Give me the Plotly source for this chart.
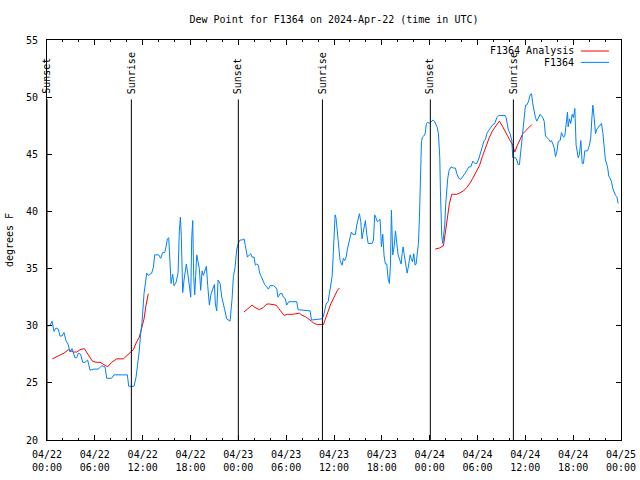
import pandas as pd
import plotly.graph_objects as go

START = pd.Timestamp("2024-04-22 00:00")

# F1364 observations: hours since 2024-04-22 00:00 UTC, dew point (F)
obs_hours = [
    0.00, 0.38, 0.63, 0.88, 1.13, 1.42, 1.63, 1.88, 2.13, 2.38, 2.63, 2.89, 3.14, 3.51, 3.72, 3.93,
    4.22, 4.48, 4.77, 5.10, 5.40, 5.81, 6.44, 6.86, 7.28, 7.49, 8.11, 8.41, 9.16, 9.79, 10.08, 10.25,
    10.92, 11.17, 11.33, 11.54, 11.75, 11.92, 12.17, 12.38, 12.51, 12.71, 13.13, 13.34, 13.51, 14.01,
    14.26, 14.51, 14.76, 14.93, 15.10, 15.27, 15.43, 15.56, 15.77, 15.93, 16.19, 16.44, 16.60, 16.73,
    16.85, 17.02, 17.19, 17.36, 17.48, 17.69, 17.86, 18.03, 18.15, 18.28, 18.40, 18.53, 18.65, 18.78,
    18.95, 19.11, 19.28, 19.45, 19.62, 19.78, 19.99, 20.16, 20.37, 20.58, 20.83, 21.00, 21.12, 21.29,
    21.46, 21.71, 21.92, 22.08, 22.29, 22.54, 22.96, 23.21, 23.38, 23.59, 23.80, 24.05,
    24.22, 24.47, 24.72, 24.88, 25.14, 25.39, 25.55, 25.72, 25.97, 26.14, 26.31, 26.52, 26.64, 26.81,
    27.06, 27.31, 27.56, 27.77, 27.98, 28.40, 28.65, 28.82, 28.98, 29.23, 29.49, 29.65, 29.86, 30.07,
    30.32, 31.33, 31.49, 33.00, 33.17, 34.46, 34.67, 34.84, 35.01, 35.26, 35.42, 35.59, 35.76, 35.84,
    36.01, 36.14, 36.26, 36.43, 36.60, 36.76, 37.01, 37.18, 37.35, 37.52, 37.68, 37.93, 38.18, 38.35,
    38.69, 38.85, 39.02, 39.19, 39.36, 39.52, 39.61, 39.77, 39.94, 40.11, 40.28, 40.78, 40.95, 41.11,
    41.28, 41.45, 41.61, 41.78, 41.95, 42.12, 42.28, 42.45, 42.62, 42.79, 42.95, 43.08, 43.20, 43.37,
    43.54, 43.71,
    44.04, 44.29, 44.42, 44.54, 44.67, 44.79, 44.92, 45.04, 45.17, 45.29, 45.42, 45.55, 45.67, 45.84,
    46.01, 46.17, 46.30, 46.42, 46.59, 46.72, 46.84, 46.97, 47.09, 47.26, 47.43, 47.59, 47.76, 47.93,
    48.10, 48.26, 48.43, 48.60, 48.77, 48.93, 49.10, 49.27, 49.35, 49.44, 49.52, 49.65, 49.77, 49.90,
    50.02, 50.15, 50.27, 50.44, 50.69, 50.94,
    51.23, 51.40, 51.65, 51.90, 52.15, 52.41, 52.66, 52.91, 53.16, 53.41, 53.66, 53.91, 54.16, 54.41,
    54.66, 54.83, 55.00, 55.17, 55.42, 55.67, 55.92, 56.17, 56.42, 56.67, 57.47, 57.59, 57.76, 57.88,
    58.09, 58.30, 58.43, 58.76, 58.93, 59.10, 59.26, 59.35, 59.52, 59.68, 59.85, 60.02, 60.18, 60.39,
    60.60, 60.77, 60.94, 61.10, 61.27, 61.44, 61.69, 61.86, 62.19, 62.36, 62.53, 62.69, 62.94, 63.11,
    63.28, 63.45, 63.61, 63.78, 63.95, 64.12, 64.37, 64.53, 64.78, 64.95, 65.12, 65.29, 65.37, 65.54,
    65.70, 65.87, 66.04, 66.21, 66.37, 66.46, 66.63, 66.79, 66.96, 67.13, 67.29, 67.46, 67.80, 68.05,
    68.21, 68.34, 68.47, 68.63, 68.80, 68.97, 69.22, 69.39, 69.55, 69.72, 69.89, 70.05, 70.31, 70.47,
    70.64, 70.81, 70.97, 71.31, 71.48, 71.64,
]
obs_dewpoint = [
    30.0, 30.0, 30.4, 29.5, 29.8, 29.7, 29.1, 29.1, 29.4, 28.7, 28.4, 27.7, 28.0, 27.2, 27.2, 27.6,
    27.5, 26.8, 26.8, 27.0, 26.1, 26.2, 26.2, 26.5, 26.4, 25.4, 25.4, 25.7, 25.7, 25.7, 25.7, 24.7,
    24.7, 25.5, 26.4, 27.6, 29.3, 30.3, 32.8, 34.0, 34.6, 34.4, 34.6, 35.1, 36.2, 36.2,
    35.9, 36.4, 36.4, 36.9, 37.6, 37.7, 34.7, 33.7, 34.5, 33.5, 33.8, 34.6, 38.3, 39.5,
    37.8, 32.9, 34.0, 35.0, 35.4, 34.4, 33.4, 32.5, 37.6, 39.2, 34.3, 32.7, 34.4, 36.2,
    35.6, 35.0, 33.1, 34.8, 34.4, 34.8, 35.2, 33.5, 31.8, 32.8, 33.4, 33.6, 31.9, 31.3,
    34.0, 33.7, 32.5, 32.1, 31.4, 30.6, 30.4, 32.3, 34.3, 35.1, 36.7, 37.3,
    37.5, 37.5, 37.6, 37.0, 36.0, 36.2, 36.3, 36.0, 36.0, 35.3, 35.4, 35.3, 34.7, 34.4,
    34.0, 33.6, 33.4, 33.2, 33.5, 33.5, 33.4, 33.2, 32.5, 32.8, 32.8, 32.5, 32.4, 31.8,
    32.1, 32.1, 31.4, 31.3, 30.5, 30.6, 30.8, 31.4, 31.9, 32.1, 32.8, 33.4, 34.3, 35.3,
    37.2, 39.7, 39.4, 38.2, 36.6, 35.7, 35.3, 35.9, 35.7, 36.0, 36.7, 37.6, 38.2, 38.0,
    38.0, 38.8, 39.4, 39.8, 39.1, 37.6, 38.0, 38.5, 39.2, 38.0, 37.2, 37.2, 37.5, 39.7,
    39.4, 39.1, 39.2, 39.3, 36.9, 38.0, 36.1, 35.4, 35.4, 34.1, 33.7, 35.3, 40.1, 36.2,
    36.9, 38.3,
    36.2, 35.7, 35.4, 36.3, 36.9, 36.3, 35.6, 35.1, 34.6, 35.0, 35.7, 36.2, 35.9, 35.6,
    36.3, 35.3, 35.4, 36.3, 37.2, 39.5, 43.9, 46.1, 46.5, 46.6, 46.8, 47.7, 47.8, 47.7,
    47.8, 47.9, 48.0, 47.9, 47.7, 47.4, 46.8, 44.7, 41.8, 39.5, 37.8, 37.2, 37.8, 38.9,
    40.7, 42.1, 42.9, 43.6, 43.9, 43.8,
    43.8, 43.3, 42.9, 42.8, 43.0, 43.3, 43.6, 43.9, 43.9, 44.4, 44.2, 44.2, 44.6, 45.2,
    45.8, 46.2, 46.3, 46.8, 47.1, 47.4, 47.6, 47.7, 48.2, 48.4, 48.4, 48.2, 47.5, 47.1,
    46.8, 46.2, 44.7, 44.7, 44.5, 44.1, 44.1, 44.7, 46.3, 47.4, 48.5, 49.3, 49.3, 49.6,
    50.2, 50.3, 49.4, 48.7, 48.2, 47.9, 48.3, 48.5, 48.2, 47.9, 46.6, 46.5, 46.3, 46.1,
    46.2, 45.9, 45.6, 44.8, 45.2, 46.1, 46.2, 46.9, 46.5, 46.6, 47.9, 48.7, 47.4, 48.1,
    47.7, 48.5, 48.2, 49.0, 45.8, 45.3, 44.7, 45.0, 46.2, 44.2, 44.2, 45.3, 45.3, 45.8,
    46.5, 48.1, 49.3, 48.2, 46.8, 47.2, 47.4, 47.6, 47.7, 46.9, 45.6, 44.5, 43.9, 43.1,
    42.9, 42.6, 42.0, 41.4, 41.3, 40.7,
]

# F1364 Analysis: three separate runs (None = gap)
ana_hours = [
    0.67, 1.21, 1.63, 2.13, 2.68, 3.30, 3.72, 4.14, 4.68, 4.98, 5.19, 5.69, 6.15, 6.65, 7.15, 7.61,
    8.11, 8.74, 9.58, 10.08, 10.50, 10.83, 11.25, 11.58, 11.88, 12.17, 12.42, 12.71, None,
    24.72, 25.05, 25.39, 25.72, 26.10, 26.64, 27.14, 27.56, 27.90, 28.40, 28.73, 29.07, 29.40, 29.74,
    30.15, 30.91, 31.66, 32.00, 32.41, 32.83, 33.17, 33.50, 33.92, 34.67, 34.92, 35.26, 35.59, 36.01,
    36.43, 36.68, None,
    48.68, 49.23, 49.73, 49.98, 50.23, 50.48, 50.77, 51.40, 51.74, 52.24, 52.66, 52.99, 53.41, 53.83,
    54.24, 54.66, 55.08, 55.50, 55.92, 56.34, 56.75, 57.17, 57.59, 58.01, 58.34, 58.68, 59.01, 59.35,
    59.68, 60.10, 60.52, 60.81,
]
ana_dewpoint = [
    27.1, 27.3, 27.4, 27.6, 27.9, 27.7, 27.7, 27.9, 28.0, 27.7, 27.4, 26.9, 26.8, 26.8, 26.6, 26.4,
    26.8, 27.1, 27.1, 27.4, 27.7, 27.9, 28.6, 29.0, 29.8, 30.6, 31.8, 32.8, None,
    31.2, 31.4, 31.6, 31.8, 31.6, 31.4, 31.6, 31.9, 31.9, 31.8, 31.8, 31.5, 31.2, 30.9,
    31.0, 31.0, 31.1, 30.9, 30.8, 30.6, 30.4, 30.2, 30.1, 30.1, 30.6, 31.4, 31.9, 32.5,
    33.1, 33.3, None,
    36.7, 36.8, 37.0, 38.3, 39.5, 40.7, 41.5, 41.5, 41.6, 41.8, 42.1, 42.4, 42.9, 43.4,
    44.0, 44.9, 45.8, 46.5, 47.1, 47.5, 47.9, 47.4, 46.8, 46.3, 45.9, 45.2, 45.8, 46.3,
    46.8, 47.1, 47.4, 47.6,
]

sun_labels = ["Sunset", "Sunrise", "Sunset", "Sunrise", "Sunset", "Sunrise"]
sun_times = ["2024-04-22 00:00", "2024-04-22 10:35", "2024-04-23 00:00",
             "2024-04-23 10:33", "2024-04-24 00:05", "2024-04-24 10:30"]

BLUE = "#0080ff"
RED = "#ff0000"
FONT = "DejaVu Sans Mono"


def to_time(hours):
    return [None if h is None else START + pd.Timedelta(hours=h) for h in hours]


fig = go.Figure()
fig.add_trace(go.Scatter(x=to_time(ana_hours), y=ana_dewpoint, mode="lines",
                         name="F1364 Analysis", line=dict(color=RED, width=1),
                         connectgaps=False))
fig.add_trace(go.Scatter(x=to_time(obs_hours), y=obs_dewpoint, mode="lines",
                         name="F1364", line=dict(color=BLUE, width=1)))

for lab, t in zip(sun_labels, sun_times):
    fig.add_shape(type="line", xref="x", yref="y", x0=t, x1=t, y0=20, y1=49.8,
                  line=dict(color="black", width=1))
    fig.add_annotation(x=t, y=50.2, xref="x", yref="y", text=lab, textangle=-90,
                       showarrow=False, xanchor="center", yanchor="bottom",
                       font=dict(family=FONT, size=10, color="black"), borderpad=0)

# legend drawn gnuplot-style (text on the left, line sample on the right)
leg = [("F1364 Analysis", RED, 0.9725), ("F1364", BLUE, 0.944)]
for name, col, yy in leg:
    fig.add_annotation(x=0.92, y=yy, xref="paper", yref="paper", text=name,
                       showarrow=False, xanchor="right", yanchor="middle",
                       font=dict(family=FONT, size=10, color="black"), borderpad=0)
    fig.add_shape(type="line", xref="paper", yref="paper", x0=0.930, x1=0.979,
                  y0=yy, y1=yy, line=dict(color=col, width=1))

fig.update_layout(
    width=640, height=480,
    margin=dict(l=47, r=19, t=40, b=40),
    paper_bgcolor="white", plot_bgcolor="white",
    showlegend=False,
    font=dict(family=FONT, size=10, color="black"),
    title=dict(text="Dew Point for F1364 on 2024-Apr-22 (time in UTC)",
               x=0.5, xref="paper", y=1 - 19 / 480, yanchor="middle",
               font=dict(family=FONT, size=10, color="black")),
)
fig.update_xaxes(
    type="date", range=["2024-04-22 00:00", "2024-04-25 00:00"],
    tick0="2024-04-22 00:00", dtick=6 * 3600 * 1000,
    tickformat="%m/%d<br>%H:%M",
    ticks="inside", ticklen=5, tickcolor="black", tickwidth=1,
    minor=dict(dtick=2 * 3600 * 1000, ticks="inside", ticklen=2, tickcolor="black"),
    showline=True, linecolor="black", linewidth=1, mirror="ticks",
    showgrid=False, zeroline=False, automargin=False, ticklabelstandoff=5,
    tickfont=dict(family=FONT, size=10, color="black"),
)
fig.update_yaxes(
    range=[20, 55], dtick=5, tick0=20,
    ticks="inside", ticklen=5, tickcolor="black", tickwidth=1,
    showline=True, linecolor="black", linewidth=1, mirror="ticks",
    showgrid=False, zeroline=False, ticklabelstandoff=6, automargin=False,
    title=dict(text="degrees F", standoff=10, font=dict(family=FONT, size=10, color="black")),
    tickfont=dict(family=FONT, size=10, color="black"),
)

fig.write_html("out.html", config={"displayModeBar": False},
               post_script="document.body.style.margin='0';")
